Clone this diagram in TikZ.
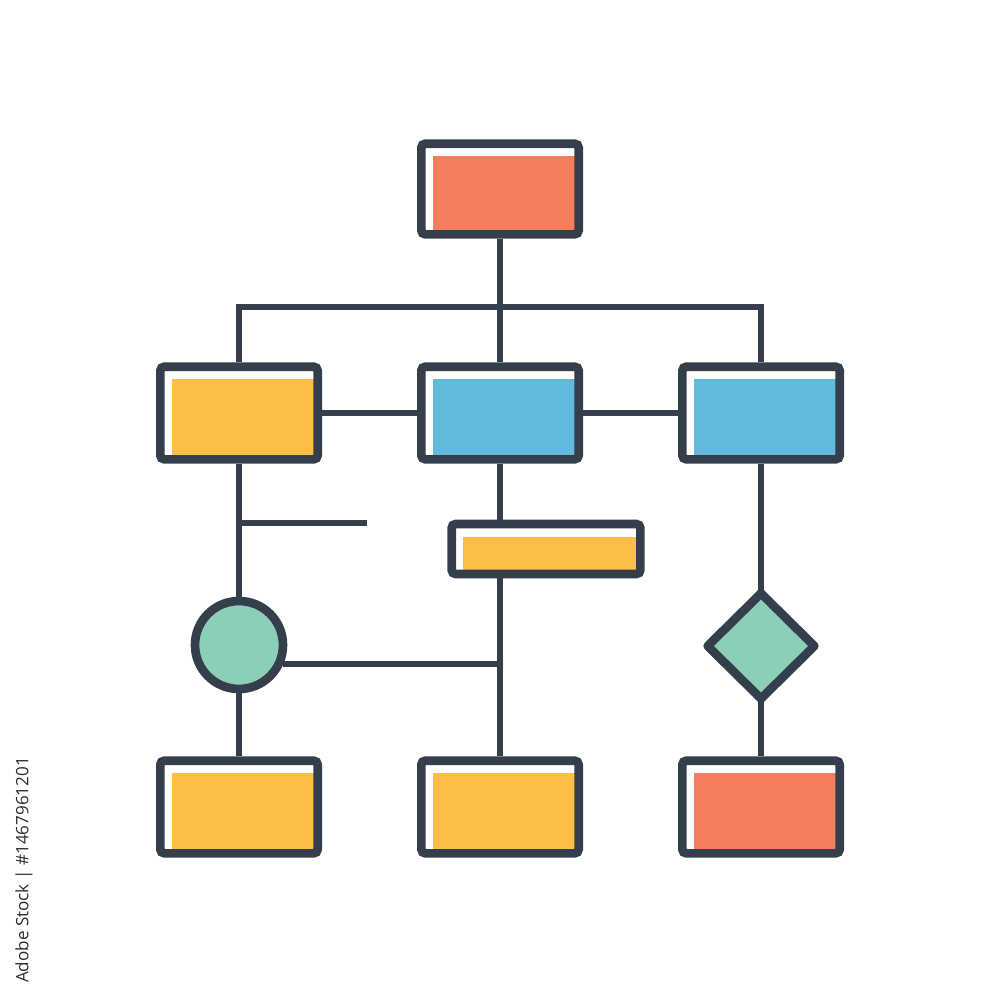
\documentclass[tikz,border=0pt]{standalone}
\usepackage{fontspec}
\newfontfamily\stockfont{Open Sans}
\usetikzlibrary{shapes.geometric}
\definecolor{outline}{RGB}{52,63,75}
\definecolor{coral}{RGB}{244,127,94}
\definecolor{amber}{RGB}{252,190,69}
\definecolor{sky}{RGB}{98,185,220}
\definecolor{mint}{RGB}{140,206,184}
\definecolor{stockgray}{RGB}{45,45,45}
\tikzset{
  block/.style={draw=outline, line width=6.5pt, rounded corners=3pt, inner sep=0pt,
    minimum width=118pt, minimum height=69.5pt,
    path picture={\fill[#1, sharp corners] ([xshift=8.5pt,yshift=-9.5pt]path picture bounding box.north west) rectangle (path picture bounding box.south east);}},
  link/.style={draw=outline, line width=5pt},
}
\begin{document}
\begin{tikzpicture}[x=0.75pt,y=0.75pt,yscale=-1,xscale=1]
\useasboundingbox (0,0) rectangle (1000,1000);

%Shape: Rectangle [top]
\node[block=coral, minimum height=68pt] (top) at (500,189) {};
%Shape: Rectangle [middle row]
\node[block=amber] (midL) at (239,413) {};
\node[block=sky] (midC) at (500,413) {};
\node[block=sky] (midR) at (761,413) {};
%Shape: Rectangle [bar]
\node[block=amber, minimum width=141.5pt, minimum height=37.5pt] (bar) at (546,549) {};
%Shape: Circle
\node[circle, draw=outline, fill=mint, line width=6.5pt, minimum size=66pt, inner sep=0pt] (circ) at (239,645) {};
%Shape: Diamond
\node[diamond, draw=outline, fill=mint, line width=6.5pt, line join=round, outer sep=0pt, minimum width=80pt, minimum height=79pt, inner sep=0pt] (dia) at (761,646) {};
%Shape: Rectangle [bottom row]
\node[block=amber] (botL) at (239,807) {};
\node[block=amber] (botC) at (500,807) {};
\node[block=coral] (botR) at (761,807) {};

\coordinate (bus) at (500,307);
\coordinate (stub) at (367,523);

%Straight Lines
\draw[link] (top.south) -- (midC.north);
\draw[link] (midL.north) |- (bus) -| (midR.north);
\draw[link] (midL.east) -- (midC.west);
\draw[link] (midC.east) -- (midR.west);
\draw[link] (midL.south) -- (circ.north);
\draw[link] (midL.south |- stub) -- (stub);
\draw[link] (midC.south) -- (midC.south |- bar.north);
\draw[link] (bar.south -| botC.north) -- (botC.north);
\draw[link] (circ.-23) -- (circ.-23 -| botC.north);
\draw[link] (circ.south) -- (botL.north);
\draw[link] (midR.south) -- (dia.north);
\draw[link] (dia.south) -- (botR.north);

% Text Node
\node[rotate=90, text=stockgray, font=\stockfont\fontsize{12.8pt}{15pt}\selectfont, inner sep=0pt] (stock) at (24,870) {Adobe Stock | \#1467961201};
\end{tikzpicture}
\end{document}
